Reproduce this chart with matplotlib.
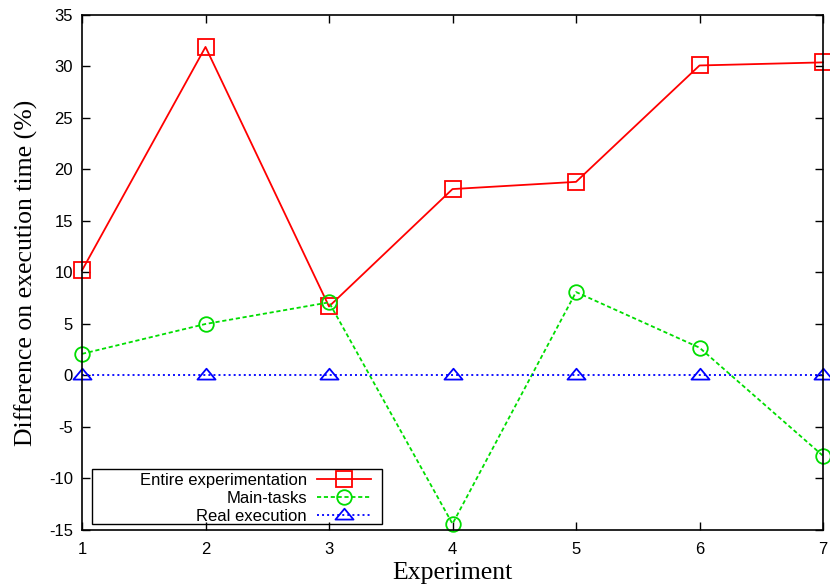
import matplotlib
matplotlib.use("Agg")
import matplotlib.pyplot as plt
from matplotlib.path import Path
from matplotlib.patches import Rectangle

experiments = [1, 2, 3, 4, 5, 6, 7]
entire = [10.2, 31.9, 6.7, 18.1, 18.8, 30.1, 30.4]
main_tasks = [2.1, 5.0, 7.1, -14.4, 8.1, 2.7, -7.8]
real_exec = [0, 0, 0, 0, 0, 0, 0]
yticks = [-15, -10, -5, 0, 5, 10, 15, 20, 25, 30, 35]

plt.rcParams['font.family'] = ['Liberation Sans', 'DejaVu Sans']
plt.rcParams['axes.unicode_minus'] = False

tri = Path([(0, 0.75), (-1.0, -0.45), (1.0, -0.45), (0, 0.75)],
           [Path.MOVETO, Path.LINETO, Path.LINETO, Path.CLOSEPOLY])

fig = plt.figure(figsize=(8.3, 5.86), dpi=100)
ax = fig.add_axes([0.0988, 0.0956, 0.8928, 0.8788])

lw = 1.3
ax.plot(experiments, entire, color='#ff0000', lw=lw, marker='s', ms=11,
        mfc='none', mec='#ff0000', mew=lw, label='Entire experimentation', clip_on=False)
ax.plot(experiments, main_tasks, color='#00dd00', lw=lw, ls=(0, (2.3, 1.5)), marker='o', ms=10.5,
        mfc='none', mec='#00dd00', mew=lw, label='Main-tasks', clip_on=False)
ax.plot(experiments, real_exec, color='#0000ff', lw=lw, ls=(0, (1.1, 1.7)), marker=tri, ms=13,
        mfc='none', mec='#0000ff', mew=lw, label='Real execution', clip_on=False)

ax.set_xlim(1, 7)
ax.set_ylim(-15, 35)
ax.set_xticks(experiments)
ax.set_yticks(yticks)
ax.tick_params(direction='in', top=True, right=True, length=6, width=1, labelsize=12)
ax.tick_params(axis='x', pad=9)
ax.tick_params(axis='y', pad=6.5)
for s in ax.spines.values():
    s.set_linewidth(1.2)

ax.set_xlabel('Experiment', family=['Liberation Serif'], fontsize=18.5, labelpad=3)
ax.set_ylabel('Difference on execution time (%)', family=['Liberation Serif'], fontsize=18.5, labelpad=8)

# legend frame
ax.add_patch(Rectangle((0.0135, 0.0117), 0.391, 0.107, transform=ax.transAxes,
                       fill=False, edgecolor='black', lw=1.0, zorder=5))
leg = ax.legend(loc='center right', bbox_to_anchor=(0.39, 0.062), markerfirst=False, fontsize=12,
                frameon=False, handlelength=3.25,
                borderpad=0, labelspacing=0.18, handletextpad=0.6, borderaxespad=0)
for t in leg.get_texts():
    t.set_ha('right')

fig.savefig('out.png', dpi=100)
